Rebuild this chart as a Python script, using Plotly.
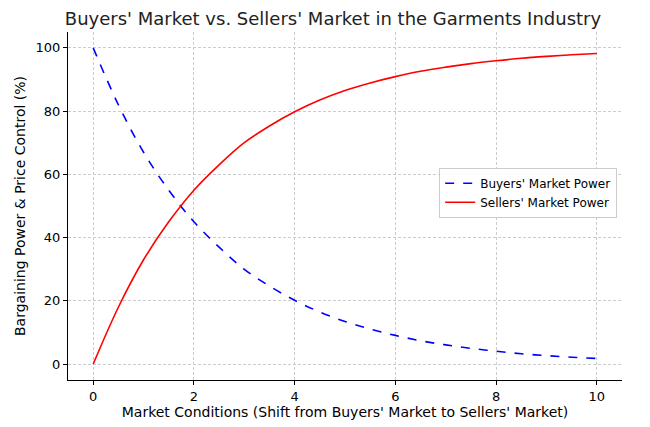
import plotly.graph_objects as go

x = [0, 0.5, 1, 1.5, 2, 2.5, 3, 3.5, 4, 4.5, 5, 5.5, 6, 6.5, 7, 7.5, 8, 8.5, 9, 9.5, 10]
buyers = [100, 82, 67, 55, 45, 37, 30, 24.7, 20.2, 16.5, 13.5, 11.1, 9.1, 7.4, 6.1, 5.0, 4.1, 3.3, 2.7, 2.2, 1.8]
sellers = [0, 18, 33, 45, 55, 63, 70, 75.3, 79.8, 83.5, 86.5, 88.9, 90.9, 92.6, 93.9, 95.0, 95.9, 96.7, 97.3, 97.8, 98.2]
xticks = [0, 2, 4, 6, 8, 10]
yticks = [0, 20, 40, 60, 80, 100]

fig = go.Figure()
fig.add_trace(go.Scatter(x=x, y=buyers, mode="lines", name="Buyers' Market Power",
                         line=dict(color="blue", dash="dash", width=1.6, shape="spline")))
fig.add_trace(go.Scatter(x=x, y=sellers, mode="lines", name="Sellers' Market Power",
                         line=dict(color="red", width=1.6, shape="spline")))
axis_common = dict(showgrid=True, gridcolor="#cccccc", griddash="3px,2px", gridwidth=0.8,
                   zeroline=False, showline=True, linecolor="black", linewidth=1,
                   ticks="outside", ticklen=4, tickcolor="black",
                   tickfont=dict(size=13, color="black"))
fig.update_xaxes(range=[-0.5, 10.5], tickvals=xticks,
                 title=dict(text="Market Conditions (Shift from Buyers' Market to Sellers' Market)",
                            font=dict(size=14, color="black"), standoff=4), **axis_common)
fig.update_yaxes(range=[-5, 105], tickvals=yticks,
                 title=dict(text="Bargaining Power & Price Control (%)",
                            font=dict(size=14, color="black"), standoff=6), **axis_common)
fig.update_layout(
    width=650, height=427,
    font=dict(family="DejaVu Sans", color="black"),
    paper_bgcolor="white", plot_bgcolor="white",
    margin=dict(l=55, r=36, t=24, b=55),
    title=dict(text="Buyers' Market vs. Sellers' Market in the Garments Industry",
               x=0.5, xanchor="center", y=0.99, yanchor="top",
               font=dict(size=18, color="#222222")),
    legend=dict(x=0.67, y=0.61, xanchor="left", yanchor="top",
                bgcolor="rgba(255,255,255,0.9)", bordercolor="#cccccc", borderwidth=1,
                font=dict(size=12)),
)
fig.write_html("out.html")
